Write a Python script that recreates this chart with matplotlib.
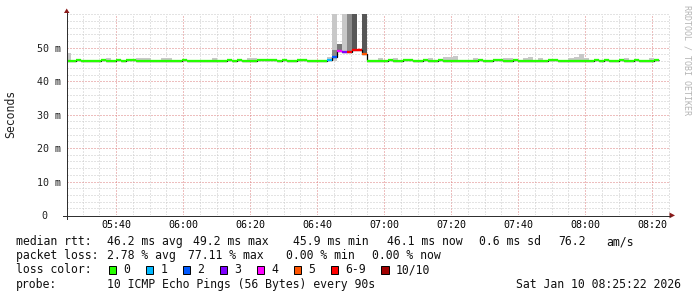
import numpy as np
import pandas as pd
import matplotlib
matplotlib.use('Agg')
import matplotlib.pyplot as plt
import matplotlib.dates as mdates
from matplotlib.lines import Line2D
from matplotlib.patches import Polygon, Rectangle

# ---------------- data ----------------
first_step = pd.Timestamp('2026-01-10 05:25:04')
step_seconds = 90
view_start = pd.Timestamp('2026-01-10 05:25:22')
view_end = pd.Timestamp('2026-01-10 08:25:22')

# median rtt per 90 s step (ms)
median_ms = [
    46.1, 46.1, 46.4, 46.1, 46.1, 46.1, 46.1, 46.4, 46.1, 46.1,
    46.4, 46.1, 46.4, 46.4, 46.1, 46.1, 46.1, 46.1, 46.1, 46.1,
    46.1, 46.1, 46.1, 46.4, 46.1, 46.1, 46.1, 46.1, 46.1, 46.1,
    46.1, 46.1, 46.4, 46.1, 46.4, 46.1, 46.1, 46.1, 46.4, 46.4,
    46.4, 46.4, 46.1, 46.4, 46.1, 46.1, 46.4, 46.4, 46.1, 46.1,
    46.1, 46.1, 46.3, 47.1, 49.0, 48.8, 48.7, 49.2, 49.2, 48.1,
    46.1, 46.1, 46.1, 46.1, 46.4, 46.1, 46.1, 46.4, 46.4, 46.1,
    46.1, 46.4, 46.1, 46.1, 46.4, 46.1, 46.1, 46.1, 46.1, 46.1,
    46.1, 46.1, 46.4, 46.1, 46.1, 46.4, 46.4, 46.1, 46.1, 46.4,
    46.1, 46.1, 46.1, 46.1, 46.1, 46.1, 46.4, 46.4, 46.1, 46.1,
    46.1, 46.1, 46.1, 46.1, 46.1, 46.4, 45.9, 46.4, 46.1, 46.1,
    46.4, 46.1, 46.1, 46.4, 46.1, 46.1, 46.1, 46.4,
]

# lost pings (of 10) per step
loss_pings = [0] * 52 + [1, 2, 4, 3, 7, 8, 9, 5] + [0] * 58

# smoke (ping spread) per step, ms
smoke_lo = [
    45.9, 45.9, 45.9, 45.9, 45.9, 45.9, 45.9, 45.9, 45.9, 45.9,
    45.9, 45.9, 45.9, 45.9, 45.9, 45.9, 45.9, 45.9, 45.9, 45.9,
    45.9, 45.9, 45.9, 45.9, 45.9, 45.9, 45.9, 45.9, 45.9, 45.9,
    45.9, 45.9, 45.9, 45.9, 45.9, 45.9, 45.9, 45.9, 45.9, 45.9,
    45.9, 45.9, 45.9, 45.9, 45.9, 45.9, 45.9, 45.9, 45.9, 45.9,
    45.9, 45.9, 45.9, 45.9, 48.6, 48.5, 48.4, 48.9, 48.9, 47.8,
    45.9, 45.9, 45.9, 45.9, 45.9, 45.9, 45.9, 45.9, 45.9, 45.9,
    45.9, 45.9, 45.9, 45.9, 45.9, 45.9, 45.9, 45.9, 45.9, 45.9,
    45.9, 45.9, 45.9, 45.9, 45.9, 45.9, 45.9, 45.9, 45.9, 45.9,
    45.9, 45.9, 45.9, 45.9, 45.9, 45.9, 45.9, 45.9, 45.9, 45.9,
    45.9, 45.9, 45.9, 45.9, 45.9, 45.9, 45.7, 45.9, 45.9, 45.9,
    45.9, 45.9, 45.9, 45.9, 45.9, 45.9, 45.9, 45.9,
]
smoke_hi = [
    48.3, 46.3, 46.3, 46.3, 46.3, 46.3, 46.3, 46.3, 46.8, 46.3,
    46.3, 46.3, 46.3, 46.3, 46.8, 46.8, 46.8, 46.3, 46.3, 46.8,
    46.8, 46.3, 46.3, 46.3, 46.3, 46.3, 46.3, 46.3, 46.3, 46.8,
    46.3, 46.3, 46.3, 46.3, 46.3, 46.3, 46.8, 46.8, 46.3, 46.3,
    46.3, 46.3, 46.3, 46.3, 46.3, 46.3, 46.3, 46.3, 46.3, 46.3,
    46.3, 46.3, 47.3, 60.0, 51.1, 60.0, 60.0, 60.0, 49.4, 60.0,
    46.3, 46.3, 46.8, 46.3, 46.3, 46.8, 46.3, 46.3, 46.3, 46.3,
    46.3, 46.3, 46.8, 46.3, 46.3, 47.1, 47.1, 47.6, 46.3, 46.3,
    46.3, 46.8, 46.3, 46.3, 46.3, 46.3, 46.3, 46.8, 46.8, 46.3,
    46.3, 46.8, 47.3, 46.3, 46.8, 46.3, 46.3, 46.3, 46.3, 46.3,
    46.8, 47.1, 48.1, 46.8, 46.3, 46.3, 46.3, 46.3, 46.3, 46.3,
    46.3, 46.8, 46.3, 46.3, 46.3, 46.3, 46.8, 46.3,
]
# smoke density class (1 = sparse ... 4 = dense)
smoke_density = [1] * 54 + [3, 1, 2, 4, 1, 4] + [1] * 58
# inner denser smoke bands
core_steps = [53]
core_lo = [47.3]
core_hi = [49.3]
core_density = [2]

# y axis
y_ticks = [0, 10, 20, 30, 40, 50]
y_tick_labels = ['0', '10 m', '20 m', '30 m', '40 m', '50 m']
y_max = 60

# legend / statistics
rtt_avg, rtt_max, rtt_min, rtt_now, rtt_sd, rtt_ams = 46.2, 49.2, 45.9, 46.1, 0.6, 76.2
loss_avg, loss_max, loss_min, loss_now = 2.78, 77.11, 0.00, 0.00
loss_labels = ['0', '1', '2', '3', '4', '5', '6-9', '10/10']
loss_colors = ['#26ff00', '#00b8ff', '#0059ff', '#7e00ff', '#ff00ff',
               '#ff5500', '#ff0000', '#a10000']
probe_text = '10 ICMP Echo Pings (56 Bytes) every 90s'
stamp_text = 'Sat Jan 10 08:25:22 2026'

# ---------------- figure ----------------
W, H = 697, 297
fig = plt.figure(figsize=(W / 100, H / 100), dpi=100)
fig.patch.set_facecolor('white')
MONO = 'DejaVu Sans Mono'
PX = 0.72  # one pixel in points

L, R, T, B = 67, 670, 14.3, 215
ax = fig.add_axes([L / W, 1 - B / H, (R - L) / W, (B - T) / H])
ax.set_facecolor('white')

n = len(median_ms)
edges = pd.date_range(first_step, periods=n + 1, freq=f'{step_seconds}s')
xe = mdates.date2num(edges.to_pydatetime())
x0, x1 = xe[:-1], xe[1:]
wid = x1 - x0

shade = {1: '#c8c8c8', 2: '#8a8a8a', 3: '#777777', 4: '#575757'}

lo = np.array(smoke_lo)
hi = np.array(smoke_hi)
ax.bar(x0, hi - lo, width=wid, bottom=lo, align='edge',
       color=[shade[d] for d in smoke_density], linewidth=0, zorder=2,
       antialiased=False)
cs = np.array(core_steps)
ax.bar(x0[cs], np.array(core_hi) - np.array(core_lo), width=wid[cs],
       bottom=core_lo, align='edge', color=[shade[d] for d in core_density],
       linewidth=0, zorder=2.1, antialiased=False)

# black median base line
ax.stairs(median_ms, xe, baseline=None, color='black', linewidth=0.9, zorder=3)


def loss_index(k):
    if k <= 5:
        return k
    if k < 10:
        return 6
    return 7


seg_colors = [loss_colors[loss_index(k)] for k in loss_pings]
ax.hlines(median_ms, x0, x1, colors=seg_colors, linewidth=1.65, zorder=4)

ax.set_xlim(mdates.date2num(view_start.to_pydatetime()),
            mdates.date2num(view_end.to_pydatetime()))
ax.set_ylim(0, y_max)

ax.xaxis.set_major_locator(mdates.MinuteLocator(byminute=[0, 20, 40]))
ax.xaxis.set_minor_locator(mdates.MinuteLocator(byminute=range(0, 60, 5)))
ax.xaxis.set_major_formatter(mdates.DateFormatter('%H:%M'))
ax.set_yticks(y_ticks)
ax.yaxis.set_minor_locator(matplotlib.ticker.MultipleLocator(2))

ax.grid(which='minor', color='#c8c8c8', linestyle=(0, (1, 2)), linewidth=PX, zorder=0)
ax.grid(which='major', color='#dd7f7f', linestyle=(0, (1, 2)), linewidth=PX, zorder=0.5)
ax.set_axisbelow(True)

ax.tick_params(axis='both', which='both', length=0)
ax.tick_params(axis='x', pad=3.4, labelsize=7.2)
ax.tick_params(axis='y', labelleft=False)
for lab in ax.get_xticklabels():
    lab.set_fontfamily(MONO)
for s in ax.spines.values():
    s.set_visible(False)

# y labels
for v, s in zip(y_ticks, y_tick_labels):
    right_px = 61 if s != '0' else 47
    ax.text((right_px - L) / (R - L), v, s, transform=ax.get_yaxis_transform(),
            ha='right', va='center_baseline', fontsize=7.2, family=MONO, color='#202020')


def fx(px):
    return px / W


def fy(py):
    return 1 - py / H


# axes lines and arrows
fig.add_artist(Line2D([fx(63), fx(670)], [fy(215.5), fy(215.5)], color='#303030', lw=PX,
                      antialiased=False))
fig.add_artist(Line2D([fx(66.5), fx(66.5)], [fy(219), fy(13)], color='#303030', lw=PX,
                      antialiased=False))
fig.add_artist(Polygon([[fx(64), fy(13)], [fx(69.5), fy(13)], [fx(66.7), fy(8.5)]],
                       closed=True, color='#8b1a1a', lw=0))
fig.add_artist(Polygon([[fx(669.5), fy(212.5)], [fx(669.5), fy(218.3)], [fx(675), fy(215.4)]],
                       closed=True, color='#8b1a1a', lw=0))

fig.text(fx(11), fy(113.5), 'Seconds', rotation=90, ha='center', va='center',
         fontsize=8.3, family=MONO, color='#202020')
fig.text(fx(687.5), fy(5), 'RRDTOOL / TOBI OETIKER', rotation=270, ha='center', va='top',
         fontsize=6, family=MONO, color='#b4b4b4')

FS = 8.3


def ltxt(px, py, s, **kw):
    fig.text(fx(px), fy(py), s, ha=kw.pop('ha', 'left'), va='baseline',
             fontsize=FS, family=MONO, color='#101010', **kw)


# line 1
y1 = 245.3
ltxt(16, y1, 'median rtt:')
ltxt(107.3, y1, f'{rtt_avg:.1f} ms avg')
ltxt(193.3, y1, f'{rtt_max:.1f} ms max')
ltxt(293.3, y1, f'{rtt_min:.1f} ms min')
ltxt(386.7, y1, f'{rtt_now:.1f} ms now')
ltxt(479.3, y1, f'{rtt_sd:.1f} ms sd')
ltxt(558.3, y1, f'{rtt_ams:.1f}')
ltxt(606.7, y1, 'am/s')
# line 2
y2 = 259.3
ltxt(16, y2, 'packet loss:')
ltxt(107.3, y2, f'{loss_avg:.2f} % avg')
ltxt(188.3, y2, f'{loss_max:.2f} % max')
ltxt(286, y2, f'{loss_min:.2f} % min')
ltxt(372.3, y2, f'{loss_now:.2f} % now')
# line 3
y3 = 273.3
ltxt(16, y3, 'loss color:')
box_x = [108.5, 145.5, 182.5, 219.5, 256.5, 293.5, 330.5, 381.3]
for bx, lab, col in zip(box_x, loss_labels, loss_colors):
    fig.add_artist(Rectangle((fx(bx), fy(273.8)), 7.6 / W, 8.3 / H,
                             facecolor=col, edgecolor='black', lw=0.7))
    ltxt(bx + 14.8, y3, lab)
# line 4
y4 = 287.7
ltxt(16, y4, 'probe:')
ltxt(107.3, y4, probe_text)
ltxt(681, y4, stamp_text, ha='right')

fig.savefig('out.png', dpi=100, facecolor='white')
